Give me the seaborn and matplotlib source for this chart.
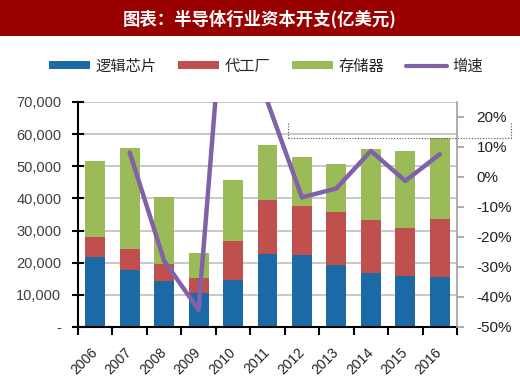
import matplotlib
matplotlib.use("Agg")
import matplotlib.pyplot as plt
import matplotlib.ticker as mticker
import matplotlib.transforms as mtransforms
from matplotlib.patches import Patch, Rectangle
from matplotlib.lines import Line2D
import seaborn as sns
import pandas as pd
import numpy as np

# ---- data ----
years = ["2006", "2007", "2008", "2009", "2010", "2011", "2012", "2013", "2014", "2015", "2016"]
logic = [21900, 17600, 14400, 10700, 14600, 22700, 22400, 19300, 16800, 15800, 15500]
foundry = [6100, 6700, 5100, 4700, 12200, 16700, 15300, 16500, 16500, 14900, 18000]
memory = [23700, 31500, 20900, 7500, 18900, 17200, 15200, 15000, 22000, 24000, 25300]
growth_years = ["2007", "2008", "2009", "2010", "2011", "2012", "2013", "2014", "2015", "2016"]
growth = [8.2, -27.9, -44.3, 99.0, 25.0, -6.8, -3.8, 8.7, -1.3, 7.6]

series_names = ["逻辑芯片", "代工厂", "存储器", "增速"]
title_text = "图表：半导体行业资本开支(亿美元)"

c_blue = "#1B6AA5"
c_red = "#C0504D"
c_green = "#9BBB59"
c_purple = "#7F62A8"

sns.set_theme(style="white")
plt.rcParams["font.family"] = ["Liberation Sans", "Noto Sans CJK SC", "DejaVu Sans"]

fig = plt.figure(figsize=(5.2, 3.79), dpi=100)
W, H = 520, 379
ax = fig.add_axes([78 / W, 1 - 327 / H, (457 - 78) / W, (327 - 102) / H])

df = pd.DataFrame({"year": years, "logic": logic, "foundry": foundry, "memory": memory})
df["l2"] = df["logic"] + df["foundry"]
df["l3"] = df["l2"] + df["memory"]

for col, color in [("l3", c_green), ("l2", c_red), ("logic", c_blue)]:
    sns.barplot(data=df, x="year", y=col, color=color, saturation=1, width=0.58,
                ax=ax, zorder=3, linewidth=0)

ax.set_xlim(-0.5, len(years) - 0.5)
ax.set_ylim(0, 70000)
ax.set_xlabel("")
ax.set_ylabel("")
ax.yaxis.set_major_locator(mticker.MultipleLocator(10000))
ax.yaxis.set_major_formatter(mticker.FuncFormatter(lambda v, p: "-" if v == 0 else f"{int(v):,}"))
ax.grid(axis="y", color="#BFBFBF", linewidth=1.2, zorder=0)
ax.set_axisbelow(True)

ax.spines["top"].set_visible(False)
ax.spines["right"].set_visible(False)
for s in ["left", "bottom"]:
    ax.spines[s].set_color("black")
    ax.spines[s].set_linewidth(1.5)
    ax.spines[s].set_zorder(5)

ax.tick_params(axis="y", direction="inout", length=8, width=1.5, color="black",
               labelsize=10.5, labelcolor="#404040", pad=8, left=True)
ax.xaxis.set_minor_locator(mticker.FixedLocator(np.arange(-0.5, len(years), 1.0)))
ax.tick_params(axis="x", which="minor", direction="out", length=6, width=1.5, color="black", bottom=True)
ax.tick_params(axis="x", which="major", length=0, labelsize=10, labelcolor="#222222", pad=13)
shift = mtransforms.ScaledTranslation(5 / 100, 0, fig.dpi_scale_trans)
for lab in ax.get_xticklabels():
    lab.set_rotation(45)
    lab.set_ha("right")
    lab.set_transform(lab.get_transform() + shift)

# ---- growth line on right axis ----
ax2 = ax.twinx()
gdf = pd.DataFrame({"x": [years.index(y) for y in growth_years], "g": growth})
sns.lineplot(data=gdf, x="x", y="g", color=c_purple, linewidth=3.2, ax=ax2, zorder=6)
ax2.set_ylim(-50, 25)
ax2.set_xlim(-0.5, len(years) - 0.5)
ax2.set_xlabel("")
ax2.set_ylabel("")
ax2.yaxis.set_major_locator(mticker.FixedLocator(np.arange(-50, 21, 10)))
ax2.yaxis.set_major_formatter(mticker.FuncFormatter(lambda v, p: f"{int(round(v))}%"))
for s in ["top", "left", "bottom"]:
    ax2.spines[s].set_visible(False)
ax2.spines["right"].set_color("#A0A0A0")
ax2.spines["right"].set_linewidth(1.2)
ax2.tick_params(axis="y", direction="out", length=5, width=1.2, color="#A0A0A0",
                labelsize=11, labelcolor="#222222", pad=9, right=True)
ax2.grid(False)

# ---- title banner ----
fig.add_artist(Rectangle((0, 1 - 36 / H), 1, 36 / H, transform=fig.transFigure,
                         facecolor="#990000", edgecolor="none", zorder=0))
fig.text(0.5, 1 - 19 / H, title_text, color="white", fontsize=12.5, fontweight="bold",
         ha="center", va="center", family=["Noto Sans CJK SC", "DejaVu Sans"])

# ---- legend ----
handles = [Patch(facecolor=c_blue, edgecolor="none"),
           Patch(facecolor=c_red, edgecolor="none"),
           Patch(facecolor=c_green, edgecolor="none"),
           Line2D([0], [0], color=c_purple, linewidth=3)]
leg = fig.legend(handles, series_names, loc="center", bbox_to_anchor=(266 / W, 1 - 66 / H),
                 ncol=4, frameon=False, handlelength=2.7, handleheight=0.5,
                 handletextpad=0.35, columnspacing=1.4,
                 prop={"family": ["Noto Sans CJK SC", "DejaVu Sans"], "size": 11})

# ---- dotted annotation box ----
def fx(px):
    return px / W

def fy(py):
    return 1 - py / H

for (x0, y0, x1, y1) in [(288, 123, 288, 138), (288, 138, 511, 138), (511, 123, 511, 138)]:
    fig.add_artist(Line2D([fx(x0), fx(x1)], [fy(y0), fy(y1)], transform=fig.transFigure,
                          color="#555555", linewidth=0.8, linestyle=(0, (1, 1.5))))

fig.savefig("out.png", dpi=100)
